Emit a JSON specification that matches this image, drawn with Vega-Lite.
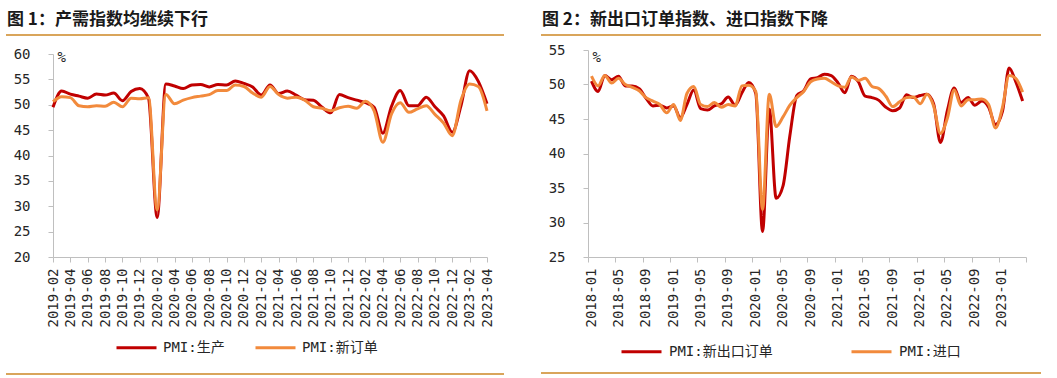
{
"$schema": "https://vega.github.io/schema/vega-lite/v6.json",
"background": "white",
"padding": {"left": 6, "top": 10, "right": 0, "bottom": 0},
"config": {"view": {"stroke": null}},
"datasets": {
"left": [
{"month":"2019-02","series":"PMI:生产","value":49.5},{"month":"2019-03","series":"PMI:生产","value":52.7},{"month":"2019-04","series":"PMI:生产","value":52.1},{"month":"2019-05","series":"PMI:生产","value":51.7},{"month":"2019-06","series":"PMI:生产","value":51.3},{"month":"2019-07","series":"PMI:生产","value":52.1},{"month":"2019-08","series":"PMI:生产","value":51.9},{"month":"2019-09","series":"PMI:生产","value":52.3},{"month":"2019-10","series":"PMI:生产","value":50.8},{"month":"2019-11","series":"PMI:生产","value":52.6},{"month":"2019-12","series":"PMI:生产","value":53.2},
{"month":"2020-01","series":"PMI:生产","value":51.3},{"month":"2020-02","series":"PMI:生产","value":27.8},{"month":"2020-03","series":"PMI:生产","value":54.1},{"month":"2020-04","series":"PMI:生产","value":53.7},{"month":"2020-05","series":"PMI:生产","value":53.2},{"month":"2020-06","series":"PMI:生产","value":53.9},{"month":"2020-07","series":"PMI:生产","value":54.0},{"month":"2020-08","series":"PMI:生产","value":53.5},{"month":"2020-09","series":"PMI:生产","value":54.0},{"month":"2020-10","series":"PMI:生产","value":53.9},{"month":"2020-11","series":"PMI:生产","value":54.7},{"month":"2020-12","series":"PMI:生产","value":54.2},
{"month":"2021-01","series":"PMI:生产","value":53.5},{"month":"2021-02","series":"PMI:生产","value":51.9},{"month":"2021-03","series":"PMI:生产","value":53.9},{"month":"2021-04","series":"PMI:生产","value":52.2},{"month":"2021-05","series":"PMI:生产","value":52.7},{"month":"2021-06","series":"PMI:生产","value":51.9},{"month":"2021-07","series":"PMI:生产","value":51.0},{"month":"2021-08","series":"PMI:生产","value":50.9},{"month":"2021-09","series":"PMI:生产","value":49.5},{"month":"2021-10","series":"PMI:生产","value":48.4},{"month":"2021-11","series":"PMI:生产","value":52.0},{"month":"2021-12","series":"PMI:生产","value":51.4},
{"month":"2022-01","series":"PMI:生产","value":50.9},{"month":"2022-02","series":"PMI:生产","value":50.4},{"month":"2022-03","series":"PMI:生产","value":49.5},{"month":"2022-04","series":"PMI:生产","value":44.4},{"month":"2022-05","series":"PMI:生产","value":49.7},{"month":"2022-06","series":"PMI:生产","value":52.8},{"month":"2022-07","series":"PMI:生产","value":49.8},{"month":"2022-08","series":"PMI:生产","value":49.8},{"month":"2022-09","series":"PMI:生产","value":51.5},{"month":"2022-10","series":"PMI:生产","value":49.6},{"month":"2022-11","series":"PMI:生产","value":47.8},{"month":"2022-12","series":"PMI:生产","value":44.6},
{"month":"2023-01","series":"PMI:生产","value":49.8},{"month":"2023-02","series":"PMI:生产","value":56.7},{"month":"2023-03","series":"PMI:生产","value":54.6},{"month":"2023-04","series":"PMI:生产","value":50.2},
{"month":"2019-02","series":"PMI:新订单","value":50.6},{"month":"2019-03","series":"PMI:新订单","value":51.6},{"month":"2019-04","series":"PMI:新订单","value":51.4},{"month":"2019-05","series":"PMI:新订单","value":49.8},{"month":"2019-06","series":"PMI:新订单","value":49.6},{"month":"2019-07","series":"PMI:新订单","value":49.8},{"month":"2019-08","series":"PMI:新订单","value":49.7},{"month":"2019-09","series":"PMI:新订单","value":50.5},{"month":"2019-10","series":"PMI:新订单","value":49.6},{"month":"2019-11","series":"PMI:新订单","value":51.3},{"month":"2019-12","series":"PMI:新订单","value":51.2},
{"month":"2020-01","series":"PMI:新订单","value":51.4},{"month":"2020-02","series":"PMI:新订单","value":29.3},{"month":"2020-03","series":"PMI:新订单","value":52.0},{"month":"2020-04","series":"PMI:新订单","value":50.2},{"month":"2020-05","series":"PMI:新订单","value":50.9},{"month":"2020-06","series":"PMI:新订单","value":51.4},{"month":"2020-07","series":"PMI:新订单","value":51.7},{"month":"2020-08","series":"PMI:新订单","value":52.0},{"month":"2020-09","series":"PMI:新订单","value":52.8},{"month":"2020-10","series":"PMI:新订单","value":52.8},{"month":"2020-11","series":"PMI:新订单","value":53.9},{"month":"2020-12","series":"PMI:新订单","value":53.6},
{"month":"2021-01","series":"PMI:新订单","value":52.3},{"month":"2021-02","series":"PMI:新订单","value":51.5},{"month":"2021-03","series":"PMI:新订单","value":53.6},{"month":"2021-04","series":"PMI:新订单","value":52.0},{"month":"2021-05","series":"PMI:新订单","value":51.3},{"month":"2021-06","series":"PMI:新订单","value":51.5},{"month":"2021-07","series":"PMI:新订单","value":50.9},{"month":"2021-08","series":"PMI:新订单","value":49.6},{"month":"2021-09","series":"PMI:新订单","value":49.3},{"month":"2021-10","series":"PMI:新订单","value":48.8},{"month":"2021-11","series":"PMI:新订单","value":49.4},{"month":"2021-12","series":"PMI:新订单","value":49.7},
{"month":"2022-01","series":"PMI:新订单","value":49.3},{"month":"2022-02","series":"PMI:新订单","value":50.7},{"month":"2022-03","series":"PMI:新订单","value":48.8},{"month":"2022-04","series":"PMI:新订单","value":42.6},{"month":"2022-05","series":"PMI:新订单","value":48.2},{"month":"2022-06","series":"PMI:新订单","value":50.4},{"month":"2022-07","series":"PMI:新订单","value":48.5},{"month":"2022-08","series":"PMI:新订单","value":49.2},{"month":"2022-09","series":"PMI:新订单","value":49.8},{"month":"2022-10","series":"PMI:新订单","value":48.1},{"month":"2022-11","series":"PMI:新订单","value":46.4},{"month":"2022-12","series":"PMI:新订单","value":43.9},
{"month":"2023-01","series":"PMI:新订单","value":50.9},{"month":"2023-02","series":"PMI:新订单","value":54.1},{"month":"2023-03","series":"PMI:新订单","value":53.6},{"month":"2023-04","series":"PMI:新订单","value":48.8}
],
"right": [
{"date":"2018-01","series":"PMI:新出口订单","value":50.5},{"date":"2018-02","series":"PMI:新出口订单","value":49.0},{"date":"2018-03","series":"PMI:新出口订单","value":51.3},{"date":"2018-04","series":"PMI:新出口订单","value":50.7},{"date":"2018-05","series":"PMI:新出口订单","value":51.2},{"date":"2018-06","series":"PMI:新出口订单","value":49.8},{"date":"2018-07","series":"PMI:新出口订单","value":49.8},{"date":"2018-08","series":"PMI:新出口订单","value":49.4},{"date":"2018-09","series":"PMI:新出口订单","value":48.0},{"date":"2018-10","series":"PMI:新出口订单","value":46.9},{"date":"2018-11","series":"PMI:新出口订单","value":47.0},{"date":"2018-12","series":"PMI:新出口订单","value":46.6},
{"date":"2019-01","series":"PMI:新出口订单","value":46.9},{"date":"2019-02","series":"PMI:新出口订单","value":45.2},{"date":"2019-03","series":"PMI:新出口订单","value":47.1},{"date":"2019-04","series":"PMI:新出口订单","value":49.2},{"date":"2019-05","series":"PMI:新出口订单","value":46.5},{"date":"2019-06","series":"PMI:新出口订单","value":46.3},{"date":"2019-07","series":"PMI:新出口订单","value":46.9},{"date":"2019-08","series":"PMI:新出口订单","value":47.2},{"date":"2019-09","series":"PMI:新出口订单","value":48.2},{"date":"2019-10","series":"PMI:新出口订单","value":47.0},{"date":"2019-11","series":"PMI:新出口订单","value":48.8},{"date":"2019-12","series":"PMI:新出口订单","value":50.3},
{"date":"2020-01","series":"PMI:新出口订单","value":48.7},{"date":"2020-02","series":"PMI:新出口订单","value":28.7},{"date":"2020-03","series":"PMI:新出口订单","value":46.4},{"date":"2020-04","series":"PMI:新出口订单","value":33.5},{"date":"2020-05","series":"PMI:新出口订单","value":35.3},{"date":"2020-06","series":"PMI:新出口订单","value":42.6},{"date":"2020-07","series":"PMI:新出口订单","value":48.4},{"date":"2020-08","series":"PMI:新出口订单","value":49.1},{"date":"2020-09","series":"PMI:新出口订单","value":50.8},{"date":"2020-10","series":"PMI:新出口订单","value":51.0},{"date":"2020-11","series":"PMI:新出口订单","value":51.5},{"date":"2020-12","series":"PMI:新出口订单","value":51.3},
{"date":"2021-01","series":"PMI:新出口订单","value":50.2},{"date":"2021-02","series":"PMI:新出口订单","value":48.8},{"date":"2021-03","series":"PMI:新出口订单","value":51.2},{"date":"2021-04","series":"PMI:新出口订单","value":50.4},{"date":"2021-05","series":"PMI:新出口订单","value":48.3},{"date":"2021-06","series":"PMI:新出口订单","value":48.1},{"date":"2021-07","series":"PMI:新出口订单","value":47.7},{"date":"2021-08","series":"PMI:新出口订单","value":46.7},{"date":"2021-09","series":"PMI:新出口订单","value":46.2},{"date":"2021-10","series":"PMI:新出口订单","value":46.6},{"date":"2021-11","series":"PMI:新出口订单","value":48.5},{"date":"2021-12","series":"PMI:新出口订单","value":48.1},
{"date":"2022-01","series":"PMI:新出口订单","value":48.4},{"date":"2022-02","series":"PMI:新出口订单","value":48.6},{"date":"2022-03","series":"PMI:新出口订单","value":47.2},{"date":"2022-04","series":"PMI:新出口订单","value":41.6},{"date":"2022-05","series":"PMI:新出口订单","value":46.2},{"date":"2022-06","series":"PMI:新出口订单","value":49.5},{"date":"2022-07","series":"PMI:新出口订单","value":47.4},{"date":"2022-08","series":"PMI:新出口订单","value":48.1},{"date":"2022-09","series":"PMI:新出口订单","value":47.0},{"date":"2022-10","series":"PMI:新出口订单","value":47.6},{"date":"2022-11","series":"PMI:新出口订单","value":46.7},{"date":"2022-12","series":"PMI:新出口订单","value":44.2},
{"date":"2023-01","series":"PMI:新出口订单","value":46.1},{"date":"2023-02","series":"PMI:新出口订单","value":52.4},{"date":"2023-03","series":"PMI:新出口订单","value":50.4},{"date":"2023-04","series":"PMI:新出口订单","value":47.6},
{"date":"2018-01","series":"PMI:进口","value":51.2},{"date":"2018-02","series":"PMI:进口","value":49.8},{"date":"2018-03","series":"PMI:进口","value":51.3},{"date":"2018-04","series":"PMI:进口","value":50.2},{"date":"2018-05","series":"PMI:进口","value":50.9},{"date":"2018-06","series":"PMI:进口","value":50.0},{"date":"2018-07","series":"PMI:进口","value":49.6},{"date":"2018-08","series":"PMI:进口","value":49.1},{"date":"2018-09","series":"PMI:进口","value":48.1},{"date":"2018-10","series":"PMI:进口","value":47.6},{"date":"2018-11","series":"PMI:进口","value":47.1},{"date":"2018-12","series":"PMI:进口","value":45.9},
{"date":"2019-01","series":"PMI:进口","value":47.1},{"date":"2019-02","series":"PMI:进口","value":44.8},{"date":"2019-03","series":"PMI:进口","value":48.7},{"date":"2019-04","series":"PMI:进口","value":49.7},{"date":"2019-05","series":"PMI:进口","value":47.1},{"date":"2019-06","series":"PMI:进口","value":46.8},{"date":"2019-07","series":"PMI:进口","value":47.4},{"date":"2019-08","series":"PMI:进口","value":46.7},{"date":"2019-09","series":"PMI:进口","value":47.1},{"date":"2019-10","series":"PMI:进口","value":46.9},{"date":"2019-11","series":"PMI:进口","value":49.8},{"date":"2019-12","series":"PMI:进口","value":49.9},
{"date":"2020-01","series":"PMI:进口","value":49.0},{"date":"2020-02","series":"PMI:进口","value":31.9},{"date":"2020-03","series":"PMI:进口","value":48.6},{"date":"2020-04","series":"PMI:进口","value":43.9},{"date":"2020-05","series":"PMI:进口","value":45.3},{"date":"2020-06","series":"PMI:进口","value":47.0},{"date":"2020-07","series":"PMI:进口","value":48.1},{"date":"2020-08","series":"PMI:进口","value":49.0},{"date":"2020-09","series":"PMI:进口","value":50.4},{"date":"2020-10","series":"PMI:进口","value":50.8},{"date":"2020-11","series":"PMI:进口","value":50.9},{"date":"2020-12","series":"PMI:进口","value":50.4},
{"date":"2021-01","series":"PMI:进口","value":49.8},{"date":"2021-02","series":"PMI:进口","value":49.6},{"date":"2021-03","series":"PMI:进口","value":51.1},{"date":"2021-04","series":"PMI:进口","value":50.6},{"date":"2021-05","series":"PMI:进口","value":50.9},{"date":"2021-06","series":"PMI:进口","value":49.7},{"date":"2021-07","series":"PMI:进口","value":49.4},{"date":"2021-08","series":"PMI:进口","value":48.3},{"date":"2021-09","series":"PMI:进口","value":46.8},{"date":"2021-10","series":"PMI:进口","value":47.5},{"date":"2021-11","series":"PMI:进口","value":48.1},{"date":"2021-12","series":"PMI:进口","value":48.2},
{"date":"2022-01","series":"PMI:进口","value":47.2},{"date":"2022-02","series":"PMI:进口","value":48.6},{"date":"2022-03","series":"PMI:进口","value":46.9},{"date":"2022-04","series":"PMI:进口","value":42.9},{"date":"2022-05","series":"PMI:进口","value":45.1},{"date":"2022-06","series":"PMI:进口","value":49.2},{"date":"2022-07","series":"PMI:进口","value":46.9},{"date":"2022-08","series":"PMI:进口","value":47.8},{"date":"2022-09","series":"PMI:进口","value":47.8},{"date":"2022-10","series":"PMI:进口","value":47.9},{"date":"2022-11","series":"PMI:进口","value":47.1},{"date":"2022-12","series":"PMI:进口","value":43.7},
{"date":"2023-01","series":"PMI:进口","value":46.7},{"date":"2023-02","series":"PMI:进口","value":51.3},{"date":"2023-03","series":"PMI:进口","value":50.9},{"date":"2023-04","series":"PMI:进口","value":48.9}
]
},
"resolve": {"scale": {"color": "independent", "x": "independent", "y": "independent"}, "legend": {"color": "independent"}},
"columns": 2,
"align": "none",
"spacing": 37,
"concat": [
{
 "columns": 1, "align": "none", "spacing": 10,
 "concat": [
  {"width": 496, "height": 0.01, "data": {"values": []}, "mark": "point",
   "view": {"stroke": "#D9A55B", "strokeWidth": 2},
   "title": {"text": "图 1：产需指数均继续下行", "anchor": "start", "frame": "group", "font": "Noto Sans CJK SC", "fontWeight": "bold", "fontSize": 17, "color": "#1a1a1a", "offset": 6}},
  {"columns": 1, "align": "none", "spacing": 45,
   "concat": [
    {"columns": 2, "align": "none", "spacing": 5,
     "concat": [
      {"width": 1, "height": 203, "data": {"values": []}, "mark": "point", "view": {"stroke": null}},
      {"width": 434, "height": 203, "data": {"name": "left"}, "view": {"stroke": null},
       "mark": {"type": "line", "interpolate": "monotone", "strokeWidth": 3},
       "encoding": {
        "x": {"field": "month", "type": "ordinal", "scale": {"type": "point", "padding": 0},
         "axis": {"values": ["2019-02","2019-04","2019-06","2019-08","2019-10","2019-12","2020-02","2020-04","2020-06","2020-08","2020-10","2020-12","2021-02","2021-04","2021-06","2021-08","2021-10","2021-12","2022-02","2022-04","2022-06","2022-08","2022-10","2022-12","2023-02","2023-04"],
          "title": null, "labelAngle": -90, "labelAlign": "right", "labelBaseline": "middle", "labelPadding": 6, "labelOverlap": false, "labelFlush": false, "labelBound": false,
          "labelFont": "DejaVu Sans Mono", "labelFontSize": 14, "labelColor": "#262626", "tickSize": 5, "tickColor": "#BFBFBF", "domainColor": "#BFBFBF", "grid": false}},
        "y": {"field": "value", "type": "quantitative", "scale": {"domain": [20, 60], "nice": false, "zero": false},
         "axis": {"values": [20,25,30,35,40,45,50,55,60], "title": "%", "titleAngle": 0, "titleAlign": "left", "titleBaseline": "middle", "titleX": 4, "titleY": 3, "titleFont": "DejaVu Sans Mono", "titleFontSize": 14, "titleFontWeight": "normal", "titleColor": "#262626",
          "labelFont": "DejaVu Sans Mono", "labelFontSize": 14, "labelColor": "#262626", "labelPadding": 18, "tickSize": 5, "tickColor": "#BFBFBF", "domainColor": "#BFBFBF", "grid": false}},
        "color": {"field": "series", "type": "nominal", "sort": null, "scale": {"domain": ["PMI:生产", "PMI:新订单"], "range": ["#C00000", "#F28A3C"]},
         "legend": {"orient": "none", "direction": "horizontal", "legendX": 95, "legendY": 278, "padding": 13, "title": null, "symbolType": "stroke", "symbolSize": 1600, "symbolStrokeWidth": 3, "labelFont": "DejaVu Sans Mono, Noto Sans CJK SC", "labelFontSize": 14, "labelColor": "#262626", "labelOffset": 5, "columnPadding": 24}}
       }}
     ]},
    {"width": 496, "height": 0.01, "data": {"values": []}, "mark": "point", "view": {"stroke": "#D9A55B", "strokeWidth": 2}}
   ]}
 ]
},
{
 "columns": 1, "align": "none", "spacing": 6,
 "concat": [
  {"width": 498, "height": 0.01, "data": {"values": []}, "mark": "point",
   "view": {"stroke": "#D9A55B", "strokeWidth": 2},
   "title": {"text": "图 2：新出口订单指数、进口指数下降", "anchor": "start", "frame": "group", "font": "Noto Sans CJK SC", "fontWeight": "bold", "fontSize": 17, "color": "#1a1a1a", "offset": 6}},
  {"columns": 1, "align": "none", "spacing": 44,
   "concat": [
    {"columns": 2, "align": "none", "spacing": 5,
     "concat": [
      {"width": 1, "height": 207, "data": {"values": []}, "mark": "point", "view": {"stroke": null}},
      {"width": 438, "height": 207, "data": {"name": "right"}, "view": {"stroke": null},
       "mark": {"type": "line", "interpolate": "monotone", "strokeWidth": 3},
       "encoding": {
        "x": {"field": "date", "type": "temporal", "timeUnit": "utcyearmonth", "bandPosition": 0.5,
         "scale": {"domain": [{"year": 2018, "month": 1, "date": 1, "utc": true}, {"year": 2023, "month": 5, "date": 1, "utc": true}]},
         "axis": {"tickCount": {"interval": "month", "step": 4}, "labelExpr": "utcyear(datum.value) == 2023 && utcmonth(datum.value) == 4 ? '' : utcFormat(datum.value, '%Y-%m')",
          "title": null, "labelAngle": -90, "labelAlign": "right", "labelBaseline": "middle", "labelPadding": 6, "labelOffset": 3, "labelOverlap": false, "labelFlush": false, "labelBound": false,
          "labelFont": "DejaVu Sans Mono", "labelFontSize": 14, "labelColor": "#262626", "tickSize": 5, "tickColor": "#BFBFBF", "domainColor": "#BFBFBF", "grid": false}},
        "y": {"field": "value", "type": "quantitative", "scale": {"domain": [25, 55], "nice": false, "zero": false},
         "axis": {"values": [25,30,35,40,45,50,55], "title": "%", "titleAngle": 0, "titleAlign": "left", "titleBaseline": "middle", "titleX": 4, "titleY": 7, "titleFont": "DejaVu Sans Mono", "titleFontSize": 14, "titleFontWeight": "normal", "titleColor": "#262626",
          "labelFont": "DejaVu Sans Mono", "labelFontSize": 14, "labelColor": "#262626", "labelPadding": 18, "tickSize": 5, "tickColor": "#BFBFBF", "domainColor": "#BFBFBF", "grid": false}},
        "color": {"field": "series", "type": "nominal", "sort": null, "scale": {"domain": ["PMI:新出口订单", "PMI:进口"], "range": ["#C00000", "#F28A3C"]},
         "legend": {"orient": "none", "direction": "horizontal", "legendX": 60, "legendY": 277, "padding": 18, "title": null, "symbolType": "stroke", "symbolSize": 1600, "symbolStrokeWidth": 3, "labelFont": "DejaVu Sans Mono, Noto Sans CJK SC", "labelFontSize": 14, "labelColor": "#262626", "labelOffset": 6, "columnPadding": 72}}
       }}
     ]},
    {"width": 498, "height": 0.01, "data": {"values": []}, "mark": "point", "view": {"stroke": "#D9A55B", "strokeWidth": 2}}
   ]}
 ]
}
]
}
